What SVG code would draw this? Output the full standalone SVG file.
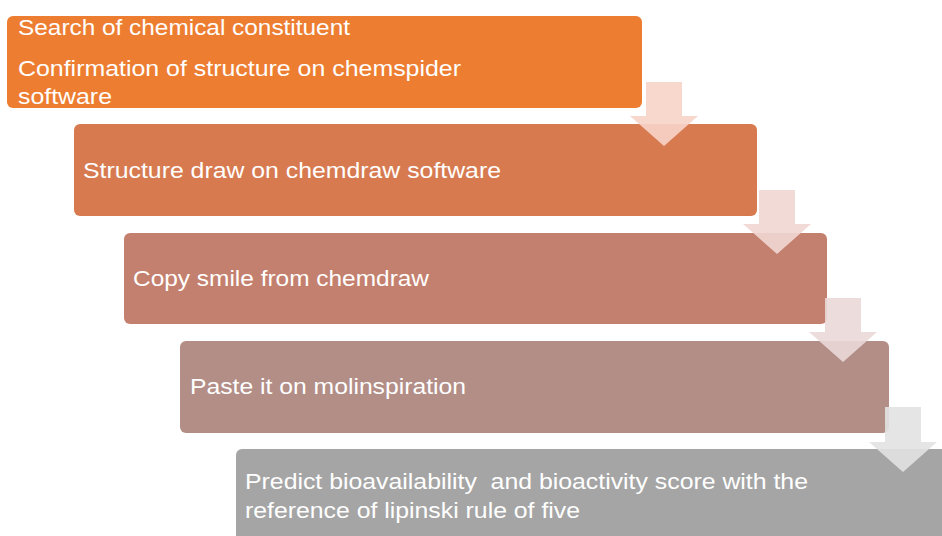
<svg xmlns="http://www.w3.org/2000/svg" width="942" height="536" viewBox="0 0 942 536">
<style>
.t{font-family:"Liberation Sans",Arial,sans-serif;font-size:22px;fill:#ffffff;white-space:pre}
.arr{opacity:0.9}
</style>
<rect width="942" height="536" fill="#ffffff"/>
<g id="node1">
<rect x="7" y="16" width="635" height="92" rx="6" fill="#ED7D31"/>
<text class="t" x="18" y="35" textLength="332" lengthAdjust="spacingAndGlyphs">Search of chemical constituent</text>
<text class="t" x="18" y="76" textLength="443" lengthAdjust="spacingAndGlyphs">Confirmation of structure on chemspider</text>
<text class="t" x="18" y="104" textLength="94" lengthAdjust="spacingAndGlyphs">software</text>
</g>
<g id="node2">
<rect x="74" y="124" width="683" height="92" rx="6" fill="#D77A50"/>
<text class="t" x="83" y="178" textLength="418" lengthAdjust="spacingAndGlyphs">Structure draw on chemdraw software</text>
</g>
<g id="node3">
<rect x="124" y="233" width="703" height="91" rx="6" fill="#C4806E"/>
<text class="t" x="133" y="286" textLength="296" lengthAdjust="spacingAndGlyphs">Copy smile from chemdraw</text>
</g>
<g id="node4">
<rect x="180" y="341" width="709" height="92" rx="6" fill="#B28E87"/>
<text class="t" x="190" y="394" textLength="276" lengthAdjust="spacingAndGlyphs">Paste it on molinspiration</text>
</g>
<g id="node5">
<rect x="236" y="449" width="720" height="100" rx="6" fill="#A5A5A5"/>
<text class="t" x="245" y="489" textLength="563" lengthAdjust="spacingAndGlyphs" xml:space="preserve">Predict bioavailability  and bioactivity score with the</text>
<text class="t" x="245" y="518" textLength="335" lengthAdjust="spacingAndGlyphs">reference of lipinski rule of five</text>
</g>
<g id="connectors">
<path class="arr" d="M646,82 H682 V116 H698 L664,146 L630,116 H646 Z" fill="#F7D4C8"/>
<path class="arr" d="M759,190 H795 V224 H811 L777,254 L743,224 H759 Z" fill="#F1D7D3"/>
<path class="arr" d="M825,298 H861 V332 H877 L843,362 L809,332 H825 Z" fill="#EAD9D8"/>
<path class="arr" d="M885,407 H921 V442 H937 L903,472 L869,442 H885 Z" fill="#E2E2E2"/>
</g>
</svg>
